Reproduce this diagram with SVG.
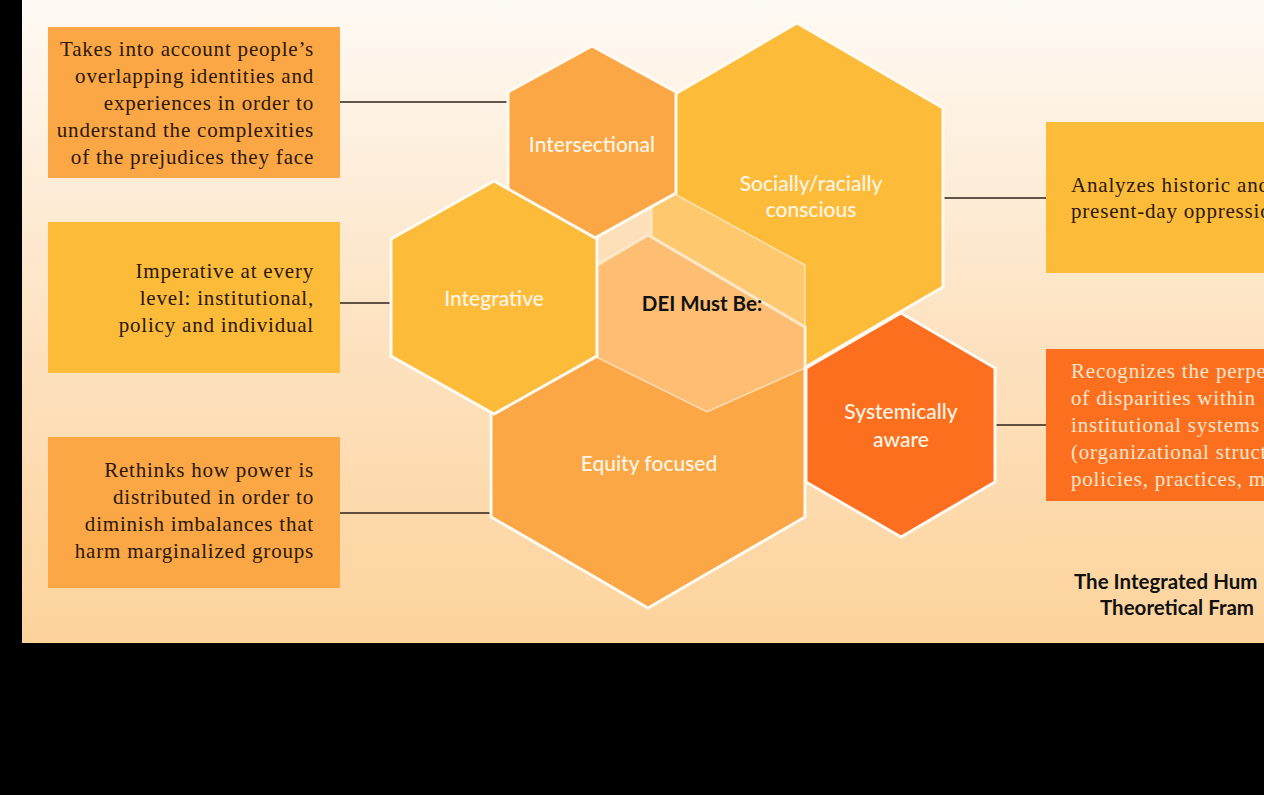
<svg xmlns="http://www.w3.org/2000/svg" width="1264" height="795" viewBox="0 0 1264 795">
<defs>
<linearGradient id="bg" x1="0" y1="0" x2="0" y2="1">
<stop offset="0" stop-color="#fefaf4"/>
<stop offset="0.5" stop-color="#fde3c3"/>
<stop offset="1" stop-color="#fdd39b"/>
</linearGradient>
<style>
.hex{stroke:#fffaf2;stroke-width:3;stroke-linejoin:miter}
.orange{fill:#fca745}
.yellow{fill:#fdbb3a}
.red{fill:#fc6f1f}
.hl{font-family:Lato,"Open Sans","Liberation Sans",sans-serif;font-size:21px;fill:#fff6e8;text-anchor:middle;font-weight:500}
.desc{font-family:"Liberation Serif",serif;font-size:21px;fill:#2a1808;letter-spacing:0.8px}
.right{text-anchor:end}
.light{fill:#fde6cc}
.conn{stroke:#2b2118;stroke-width:1.5;fill:none}
.bold{font-family:Lato,"Open Sans","Liberation Sans",sans-serif;font-weight:700;font-size:20.5px;fill:#111}
</style>
</defs>
<rect x="0" y="0" width="1264" height="795" fill="#000"/>
<rect x="22" y="0" width="1242" height="643" fill="url(#bg)"/>

<g id="connectors">
<line class="conn" x1="340" y1="102" x2="508" y2="102"/>
<line class="conn" x1="340" y1="303" x2="391" y2="303"/>
<line class="conn" x1="340" y1="513" x2="491" y2="513"/>
<line class="conn" x1="943" y1="198" x2="1046" y2="198"/>
<line class="conn" x1="995" y1="425" x2="1046" y2="425"/>
</g>

<g id="box-intersectional">
<rect class="orange" x="48" y="27" width="292" height="151"/>
<text class="desc right"><tspan x="314" y="56">Takes into account people’s</tspan><tspan x="314" y="83">overlapping identities and</tspan><tspan x="314" y="110">experiences in order to</tspan><tspan x="314" y="137">understand the complexities</tspan><tspan x="314" y="164">of the prejudices they face</tspan></text>
</g>
<g id="box-integrative">
<rect class="yellow" x="48" y="222" width="292" height="151"/>
<text class="desc right"><tspan x="314" y="278">Imperative at every</tspan><tspan x="314" y="305">level: institutional,</tspan><tspan x="314" y="332">policy and individual</tspan></text>
</g>
<g id="box-equity">
<rect class="orange" x="48" y="437" width="292" height="151"/>
<text class="desc right"><tspan x="314" y="477">Rethinks how power is</tspan><tspan x="314" y="504">distributed in order to</tspan><tspan x="314" y="531">diminish imbalances that</tspan><tspan x="314" y="558">harm marginalized groups</tspan></text>
</g>
<g id="box-socially">
<rect class="yellow" x="1046" y="122" width="230" height="151"/>
<text class="desc"><tspan x="1071" y="192">Analyzes historic and</tspan><tspan x="1071" y="218">present-day oppressio</tspan></text>
</g>
<g id="box-systemically">
<rect class="red" x="1046" y="349" width="230" height="152"/>
<text class="desc light"><tspan x="1071" y="378">Recognizes the perpe</tspan><tspan x="1071" y="405">of disparities within</tspan><tspan x="1071" y="432">institutional systems</tspan><tspan x="1071" y="459">(organizational struct</tspan><tspan x="1071" y="486">policies, practices, ma</tspan></text>
</g>

<g id="hex-socially">
<polygon class="hex yellow" points="797,23 943,108 943,287 797,372 651,287 651,108"/>
<text class="hl"><tspan x="811" y="191">Socially/racially</tspan><tspan x="811" y="217">conscious</tspan></text>
</g>
<g id="hex-equity">
<polygon class="hex orange" points="648,235 805,327 805,517 648,608 491,517 491,327"/>
<text class="hl" x="649" y="471">Equity focused</text>
</g>
<g id="hex-dei">
<polygon points="596,232 660,186 805,265 805,368 707,412 596,357" fill="#fdd5a2" fill-opacity="0.5" stroke="#fff6ea" stroke-opacity="0.6" stroke-width="1.5"/>
<text class="bold" x="702" y="311" text-anchor="middle">DEI Must Be:</text>
</g>
<g id="hex-intersectional">
<polygon class="hex orange" points="592,46 676,92 676,193 593,239 508,193 508,92"/>
<text class="hl" x="592" y="152">Intersectional</text>
</g>
<g id="hex-integrative">
<polygon class="hex yellow" points="494,181 597,239 597,356 494,414 391,356 391,239"/>
<text class="hl" x="494" y="306">Integrative</text>
</g>
<g id="hex-systemically">
<polygon class="hex red" points="901,313 995,368 995,482 901,537 806,482 806,368"/>
<text class="hl"><tspan x="901" y="419">Systemically</tspan><tspan x="901" y="447">aware</tspan></text>
</g>

<g id="title">
<text class="bold"><tspan x="1074" y="589">The Integrated Hum</tspan><tspan x="1100" y="615">Theoretical Fram</tspan></text>
</g>
</svg>
